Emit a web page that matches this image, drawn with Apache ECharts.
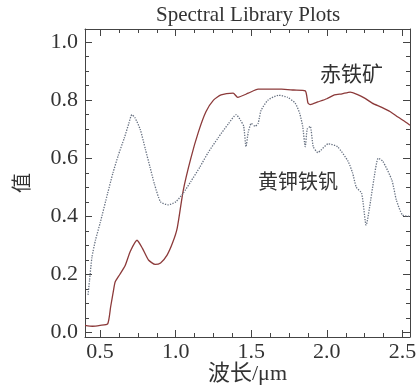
<!DOCTYPE html>
<html>
<head>
<meta charset="utf-8">
<script src="https://cdn.jsdelivr.net/npm/echarts@6/dist/echarts.min.js"></script>
<style>
  html, body { margin: 0; padding: 0; background: #fff; }
  #chart { width: 416px; height: 385px; }
</style>
</head>
<body>
<div id="chart"></div>
<script>
// 赤铁矿 (hematite) reflectance
var hematiteX = [0.40, 0.45, 0.50, 0.55, 0.57, 0.59, 0.60, 0.63, 0.665, 0.70, 0.744, 0.78, 0.82, 0.864, 0.90, 0.943, 0.98, 1.01, 1.05,
  1.10, 1.15, 1.20, 1.25, 1.30, 1.38, 1.41, 1.48, 1.545, 1.62, 1.70, 1.78, 1.857, 1.875, 1.89, 1.94, 2.00, 2.05, 2.10, 2.155,
  2.20, 2.25, 2.30, 2.36, 2.42, 2.47, 2.52, 2.55];
var hematiteY = [0.025, 0.022, 0.025, 0.03, 0.09, 0.15, 0.175, 0.20, 0.23, 0.28, 0.318, 0.29, 0.25, 0.235, 0.24, 0.267, 0.31, 0.36, 0.49,
  0.60, 0.69, 0.76, 0.80, 0.818, 0.824, 0.81, 0.824, 0.838, 0.838, 0.838, 0.835, 0.832, 0.79, 0.785, 0.794, 0.805, 0.818, 0.822, 0.828,
  0.82, 0.807, 0.79, 0.776, 0.76, 0.742, 0.725, 0.714];

// 黄钾铁钒 (jarosite) reflectance
var jarositeX = [0.42, 0.43, 0.446, 0.47, 0.50, 0.55, 0.585, 0.62, 0.66, 0.69, 0.71, 0.73, 0.765, 0.80, 0.83, 0.86, 0.90, 0.95, 1.00,
  1.05, 1.10, 1.16, 1.215, 1.28, 1.35, 1.40, 1.43, 1.45, 1.465, 1.48, 1.50, 1.525, 1.545, 1.565, 1.61, 1.68, 1.74, 1.79, 1.82,
  1.84, 1.857, 1.87, 1.89, 1.91, 1.94, 2.01, 2.07, 2.14, 2.17, 2.195, 2.23, 2.26, 2.29, 2.31, 2.34, 2.37, 2.43, 2.46, 2.50, 2.55];
var jarositeY = [0.13, 0.18, 0.26, 0.32, 0.377, 0.48, 0.55, 0.61, 0.67, 0.72, 0.75, 0.74, 0.70, 0.63, 0.57, 0.51, 0.45, 0.44, 0.45,
  0.48, 0.52, 0.57, 0.62, 0.67, 0.72, 0.75, 0.73, 0.71, 0.64, 0.69, 0.72, 0.71, 0.72, 0.765, 0.80, 0.817, 0.81, 0.79, 0.755,
  0.71, 0.64, 0.70, 0.71, 0.64, 0.62, 0.65, 0.64, 0.59, 0.55, 0.50, 0.48, 0.37, 0.456, 0.525, 0.60, 0.59, 0.525, 0.456, 0.405, 0.40];

// tick labels
var xMajor = [0.5, 1.0, 1.5, 2.0, 2.5];
var xMinor = [0.625, 0.75, 0.875, 1.125, 1.25, 1.375, 1.625, 1.75, 1.875, 2.125, 2.25, 2.375];
var yMajor = [0.0, 0.2, 0.4, 0.6, 0.8, 1.0];
var yMinor = [0.05, 0.1, 0.15, 0.25, 0.3, 0.35, 0.45, 0.5, 0.55, 0.65, 0.7, 0.75, 0.85, 0.9, 0.95];

var serif = "'Liberation Serif','Noto Sans CJK SC'";
var lineColor = '#444';
var textColor = '#333';

function zip(xs, ys) {
    var out = [];
    for (var i = 0; i < xs.length; i++) out.push([xs[i], ys[i]]);
    return out;
}

// 一个坐标轴：major 带标签，minor 只画短刻度
function makeAxis(pos, min, max, ticks, len, showLabel, showLine) {
    return {
        type: 'value',
        position: pos,
        min: min,
        max: max,
        splitLine: { show: false },
        axisLine: { show: showLine, onZero: false, lineStyle: { color: lineColor, width: 1 } },
        axisTick: { show: true, inside: true, length: len, customValues: ticks, lineStyle: { color: lineColor, width: 1 } },
        axisLabel: {
            show: showLabel,
            customValues: ticks,
            color: textColor,
            fontFamily: serif,
            fontSize: 22,
            margin: pos === 'left' ? 7 : 4,
            formatter: function (v) { return v.toFixed(1); }
        }
    };
}

var xMin = 0.4, xMax = 2.55, yMin = -0.015, yMax = 1.045;

var xAxes = [
    makeAxis('bottom', xMin, xMax, xMajor, 7, true, true),
    makeAxis('bottom', xMin, xMax, xMinor, 4, false, false),
    makeAxis('top', xMin, xMax, xMajor, 7, false, true),
    makeAxis('top', xMin, xMax, xMinor, 4, false, false)
];
xAxes[0].name = '波长/μm';
xAxes[0].nameLocation = 'middle';
xAxes[0].nameGap = 26;
xAxes[0].nameMoveOverlap = false;
xAxes[0].nameTextStyle = { color: textColor, fontFamily: serif, fontSize: 22 };

var yAxes = [
    makeAxis('left', yMin, yMax, yMajor, 7, true, true),
    makeAxis('left', yMin, yMax, yMinor, 4, false, false),
    makeAxis('right', yMin, yMax, yMajor, 7, false, true),
    makeAxis('right', yMin, yMax, yMinor, 4, false, false)
];
yAxes[0].name = '值';
yAxes[0].nameLocation = 'middle';
yAxes[0].nameRotate = 90;
yAxes[0].nameGap = 54;
yAxes[0].nameMoveOverlap = false;
yAxes[0].nameTextStyle = { color: textColor, fontFamily: "'Noto Sans CJK SC'", fontSize: 20 };

var myChart = echarts.init(document.getElementById('chart'));
var option = {
    animation: false,
    backgroundColor: '#fff',
    grid: { left: 85, top: 29, right: 6, bottom: 48, containLabel: false, outerBoundsMode: 'none' },
    xAxis: xAxes,
    yAxis: yAxes,
    graphic: [
        { type: 'text', left: 156, top: 5, style: { text: 'Spectral Library Plots', font: '21px ' + serif, fill: textColor } },
        { type: 'text', left: 320, top: 63, style: { text: '赤铁矿', font: '21px "Noto Sans CJK SC"', fill: textColor } },
        { type: 'text', left: 258, top: 171, style: { text: '黄钾铁钒', font: '20px "Noto Sans CJK SC"', fill: textColor } }
    ],
    series: [
        {
            name: '赤铁矿',
            type: 'line',
            data: zip(hematiteX, hematiteY),
            showSymbol: false,
            smooth: 0.2,
            lineStyle: { color: '#8c3a3a', width: 1.3 }
        },
        {
            name: '黄钾铁钒',
            type: 'line',
            data: zip(jarositeX, jarositeY),
            showSymbol: false,
            smooth: 0.2,
            lineStyle: { color: '#667080', width: 1.3, type: 'dotted' }
        }
    ]
};
myChart.setOption(option);
</script>
</body>
</html>
